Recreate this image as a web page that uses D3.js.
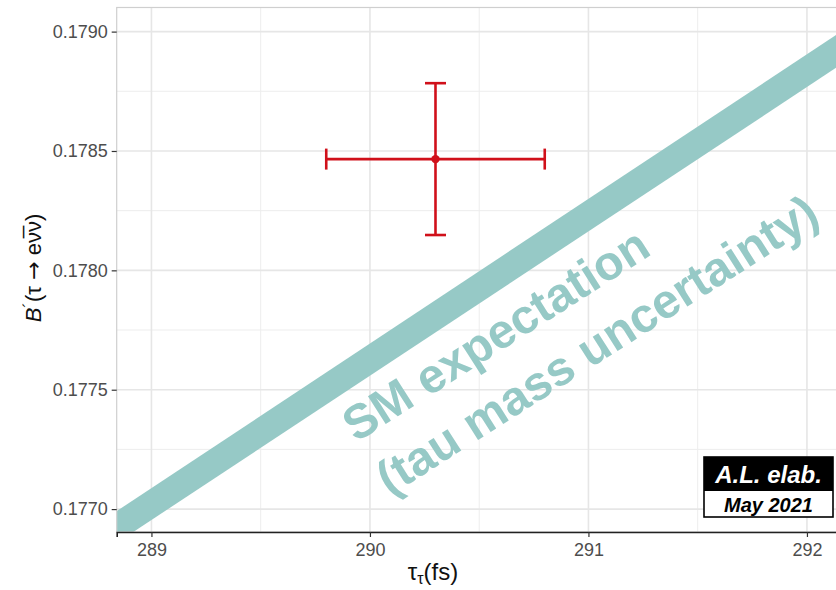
<!DOCTYPE html>
<html>
<head>
<meta charset="utf-8">
<script src="https://cdn.jsdelivr.net/npm/d3@7"></script>
<style>
  body { margin: 0; background: #fff; }
  svg text { font-family: "Liberation Sans", Arial, sans-serif; }
</style>
</head>
<body>
<div id="chart"></div>
<script>
// measured point with errors
const pointTau = [290.3];
const pointTauErr = [0.5];
const pointB = [0.178466];
const pointBErr = [0.000318];

// SM expectation band (tau mass uncertainty)
const bandTau = [288.5, 292.5];
const bandLow = [0.176652, 0.17907];
const bandHigh = [0.176785, 0.179208];

// ticks
const xTicks = [289, 290, 291, 292];
const xMinor = [289.5, 290.5, 291.5];
const yTicks = [0.177, 0.1775, 0.178, 0.1785, 0.179];
const yMinor = [0.17725, 0.17775, 0.17825, 0.17875];

const W = 836, H = 590;
const PANEL = Object.freeze({ left: 116.7, top: 7.5, bottom: 532 });
const BAND_COL = "#96c9c6";
const RED = "#d0101a";

const svg = d3.select("#chart").append("svg")
  .attr("width", W).attr("height", H);

const x = d3.scaleLinear().domain([288.841, 292.2]).range([PANEL.left, PANEL.left + 3.359 * 218.5]);
const y = d3.scaleLinear().domain([0.176904, 0.179101]).range([PANEL.bottom, PANEL.top]);
const right = x.range()[1];

svg.append("clipPath").attr("id", "panel")
  .append("rect")
  .attr("x", PANEL.left).attr("y", PANEL.top)
  .attr("width", right - PANEL.left).attr("height", PANEL.bottom - PANEL.top);

// grid
const grid = svg.append("g");
grid.selectAll(".xmin").data(xMinor).enter().append("line")
  .attr("x1", d => x(d)).attr("x2", d => x(d))
  .attr("y1", PANEL.top).attr("y2", PANEL.bottom)
  .attr("stroke", "#ededed").attr("stroke-width", 1);
grid.selectAll(".ymin").data(yMinor).enter().append("line")
  .attr("y1", d => y(d)).attr("y2", d => y(d))
  .attr("x1", PANEL.left).attr("x2", right)
  .attr("stroke", "#ededed").attr("stroke-width", 1);
grid.selectAll(".xmaj").data(xTicks).enter().append("line")
  .attr("x1", d => x(d)).attr("x2", d => x(d))
  .attr("y1", PANEL.top).attr("y2", PANEL.bottom)
  .attr("stroke", "#e6e6e6").attr("stroke-width", 1.6);
grid.selectAll(".ymaj").data(yTicks).enter().append("line")
  .attr("y1", d => y(d)).attr("y2", d => y(d))
  .attr("x1", PANEL.left).attr("x2", right)
  .attr("stroke", "#e6e6e6").attr("stroke-width", 1.6);

// band
const bandData = bandTau.map((t, i) => ({ t, lo: bandLow[i], hi: bandHigh[i] }));
svg.append("path")
  .datum(bandData)
  .attr("clip-path", "url(#panel)")
  .attr("fill", BAND_COL)
  .attr("d", d3.area().x(d => x(d.t)).y0(d => y(d.lo)).y1(d => y(d.hi)));

// panel border (light)
svg.append("rect")
  .attr("x", PANEL.left).attr("y", PANEL.top)
  .attr("width", right - PANEL.left + 10).attr("height", PANEL.bottom - PANEL.top)
  .attr("fill", "none").attr("stroke", "#cfcfcf").attr("stroke-width", 1.2);

// annotation text
const ang = -32.5;
const note = svg.append("g")
  .attr("transform", `translate(356,443) rotate(${ang})`);
note.append("text").attr("x", 0).attr("y", 0)
  .attr("font-size", 48).attr("font-weight", "bold").attr("fill", BAND_COL)
  .text("SM expectation");
note.append("text").attr("x", 0).attr("y", 63)
  .attr("font-size", 48).attr("font-weight", "bold").attr("fill", BAND_COL)
  .text("(tau mass uncertainty)");

// error bars
const pts = pointTau.map((t, i) => ({ t, te: pointTauErr[i], b: pointB[i], be: pointBErr[i] }));
const eb = svg.append("g").attr("stroke", RED).attr("stroke-width", 2.6);
const CAP = 10.5;
pts.forEach(p => {
  eb.append("line").attr("x1", x(p.t - p.te)).attr("x2", x(p.t + p.te)).attr("y1", y(p.b)).attr("y2", y(p.b));
  eb.append("line").attr("x1", x(p.t - p.te)).attr("x2", x(p.t - p.te)).attr("y1", y(p.b) - CAP).attr("y2", y(p.b) + CAP);
  eb.append("line").attr("x1", x(p.t + p.te)).attr("x2", x(p.t + p.te)).attr("y1", y(p.b) - CAP).attr("y2", y(p.b) + CAP);
  eb.append("line").attr("x1", x(p.t)).attr("x2", x(p.t)).attr("y1", y(p.b - p.be)).attr("y2", y(p.b + p.be));
  eb.append("line").attr("x1", x(p.t) - CAP).attr("x2", x(p.t) + CAP).attr("y1", y(p.b + p.be)).attr("y2", y(p.b + p.be));
  eb.append("line").attr("x1", x(p.t) - CAP).attr("x2", x(p.t) + CAP).attr("y1", y(p.b - p.be)).attr("y2", y(p.b - p.be));
  svg.append("circle").attr("cx", x(p.t)).attr("cy", y(p.b)).attr("r", 4.2).attr("fill", RED);
});

// axes
const xAxis = svg.append("g")
  .attr("transform", `translate(0,${PANEL.bottom})`)
  .call(d3.axisBottom(x).tickValues(xTicks).tickFormat(d3.format("d")).tickSize(5).tickPadding(6));
xAxis.select(".domain").attr("stroke", "#222").attr("stroke-width", 1.6);
xAxis.selectAll(".tick line").attr("stroke", "#333").attr("stroke-width", 1.2);
xAxis.selectAll(".tick text").attr("fill", "#4d4d4d").attr("font-size", 18)
  .attr("font-family", "Liberation Sans, Arial, sans-serif");

const yAxis = svg.append("g")
  .attr("transform", `translate(${PANEL.left},0)`)
  .call(d3.axisLeft(y).tickValues(yTicks).tickFormat(d3.format(".4f")).tickSize(5).tickPadding(4));
yAxis.select(".domain").remove();
yAxis.selectAll(".tick line").attr("stroke", "#333").attr("stroke-width", 1.2);
yAxis.selectAll(".tick text").attr("fill", "#4d4d4d").attr("font-size", 18)
  .attr("font-family", "Liberation Sans, Arial, sans-serif");

// axis titles
const xt = svg.append("text").attr("x", 433).attr("y", 580)
  .attr("text-anchor", "middle").attr("font-size", 24).attr("fill", "#111");
xt.append("tspan").text("τ");
xt.append("tspan").attr("font-size", 16).attr("dy", 4).text("τ");
xt.append("tspan").attr("dy", -4).text("(fs)");

const yt = svg.append("text")
  .attr("transform", "translate(41,268) rotate(-90)")
  .attr("text-anchor", "middle").attr("font-size", 22).attr("fill", "#111");
yt.append("tspan").attr("font-style", "italic").text("B");
yt.append("tspan").attr("dy", -6).attr("font-size", 17).text("´");
yt.append("tspan").attr("dy", 6).text("(τ ");
yt.append("tspan").attr("font-family", "DejaVu Sans").attr("font-size", 22).text("→");
yt.append("tspan").text(" eν\u0305ν)");

// badge
const badge = svg.append("g");
badge.append("rect").attr("x", 704).attr("y", 457).attr("width", 129).attr("height", 60)
  .attr("fill", "#fff").attr("stroke", "#000").attr("stroke-width", 1.6);
badge.append("rect").attr("x", 704).attr("y", 457).attr("width", 129).attr("height", 34)
  .attr("fill", "#000");
badge.append("text").attr("x", 768.5).attr("y", 483).attr("text-anchor", "middle")
  .attr("font-size", 24).attr("font-weight", "bold").attr("font-style", "italic")
  .attr("fill", "#fff").text("A.L. elab.");
badge.append("text").attr("x", 768.5).attr("y", 512).attr("text-anchor", "middle")
  .attr("font-size", 20).attr("font-weight", "bold").attr("font-style", "italic")
  .attr("fill", "#000").text("May 2021");
</script>
</body>
</html>
